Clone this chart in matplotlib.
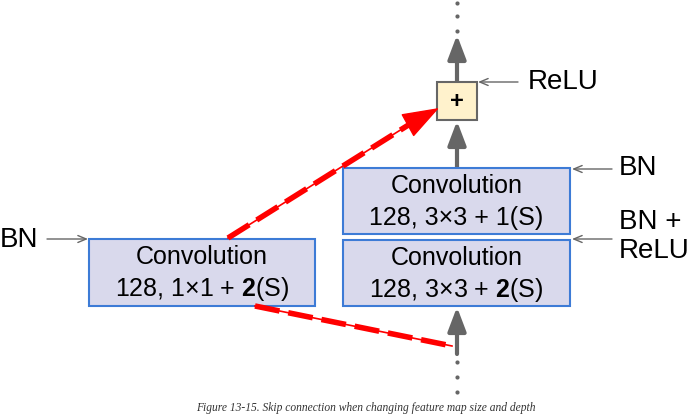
import matplotlib
matplotlib.use("Agg")
import matplotlib.pyplot as plt
from matplotlib.patches import Rectangle

plt.rcParams['font.family'] = ['Liberation Sans', 'DejaVu Sans']
plt.rcParams['mathtext.fontset'] = 'custom'
plt.rcParams['mathtext.rm'] = 'Liberation Sans'
plt.rcParams['mathtext.bf'] = 'Liberation Sans:bold'

# diagram texts
conv_title = "Convolution"
conv_params = ["128, 1×1 + $\\mathbf{2}$(S)",
               "128, 3×3 + 1(S)",
               "128, 3×3 + $\\mathbf{2}$(S)"]
side_labels = ["BN", "BN", "BN +\nReLU", "ReLU"]
caption = "Figure 13-15. Skip connection when changing feature map size and depth"

# boxes: (x, y, w, h) in pixel space
boxes = [(89, 239, 226, 67), (343, 168, 227, 66), (343, 240, 227, 66)]

box_fill = '#d9d9ec'
box_edge = '#3d7bd6'
gray = '#666666'
red = '#ff0000'

fig = plt.figure(figsize=(6.9, 4.19), dpi=100)
ax = fig.add_axes([0, 0, 1, 1])
ax.set_xlim(0, 690)
ax.set_ylim(419, 0)
ax.axis('off')

for (x, y, w, h), p in zip(boxes, conv_params):
    ax.add_patch(Rectangle((x, y), w, h, facecolor=box_fill, edgecolor=box_edge, lw=1.5, zorder=2))
    ax.text(x + w / 2, y + 18, conv_title, ha='center', va='center', fontsize=18, zorder=3)
    ax.text(x + w / 2, y + 50, p, ha='center', va='center', fontsize=18, zorder=3)

# plus box
ax.add_patch(Rectangle((437, 82), 40, 38, facecolor='#fff2cc', edgecolor=gray, lw=1.5, zorder=2))
ax.text(457, 101, "+", ha='center', va='center', fontsize=17, fontweight='bold', zorder=3)

# thick gray arrows on the main path
thick = dict(arrowstyle='-|>,head_length=1.45,head_width=0.55', color=gray, lw=3,
             shrinkA=0, shrinkB=0, mutation_scale=10)
ax.annotate("", xy=(457, 121), xytext=(457, 168), arrowprops=thick, zorder=1)
ax.annotate("", xy=(457, 35), xytext=(457, 82), arrowprops=thick, zorder=1)
ax.annotate("", xy=(457, 307), xytext=(457, 354), arrowprops=thick, zorder=1)

# dots above and below
for yd in [3, 16, 31]:
    ax.plot(457, yd, 'o', color=gray, ms=3, mec='none')
for yd in [362, 377, 392]:
    ax.plot(457, yd, 'o', color=gray, ms=3, mec='none')

# thin gray label arrows
thin = dict(arrowstyle='->,head_length=0.6,head_width=0.25', color=gray, lw=1,
            shrinkA=0, shrinkB=0, mutation_scale=10)
ax.annotate("", xy=(88, 239), xytext=(47, 239), arrowprops=thin)
ax.annotate("", xy=(572, 169), xytext=(612, 169), arrowprops=thin)
ax.annotate("", xy=(572, 239), xytext=(612, 239), arrowprops=thin)
ax.annotate("", xy=(478, 82), xytext=(518, 82), arrowprops=thin)

ax.text(0, 240, side_labels[0], ha='left', va='center', fontsize=20)
ax.text(619, 168, side_labels[1], ha='left', va='center', fontsize=20)
ax.text(619, 236, side_labels[2], ha='left', va='center', fontsize=20, linespacing=1.15)
ax.text(528, 82, side_labels[3], ha='left', va='center', fontsize=20)

# red skip connection (thin line with thick dashes)
x1, y1 = [228, 410], [238, 124]
ax.plot(x1, y1, color=red, lw=1.2, zorder=4)
ax.plot(x1, y1, color=red, lw=4, linestyle=(0, (4.5, 1.6)), zorder=4)
ax.annotate("", xy=(439, 108), xytext=(410, 124),
            arrowprops=dict(arrowstyle='-|>,head_length=2.4,head_width=0.85', color=red, lw=1,
                            shrinkA=0, shrinkB=0, mutation_scale=10), zorder=4)
x2, y2 = [255, 452], [306, 346]
ax.plot(x2, y2, color=red, lw=1.2, zorder=4)
ax.plot(x2, y2, color=red, lw=4, linestyle=(0, (4.5, 1.6)), zorder=4)

ax.text(366, 408, caption, ha='center', va='center', fontsize=8.3, style='italic',
        family='Liberation Serif', color='#333333')

fig.savefig("out.png", dpi=100)
